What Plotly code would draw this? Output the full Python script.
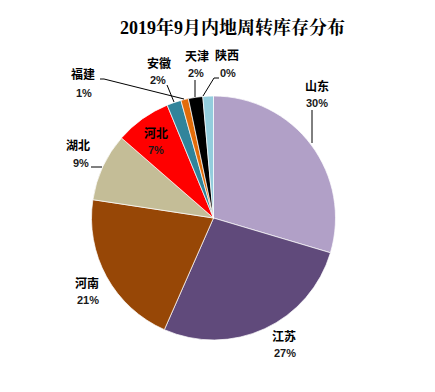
import plotly.graph_objects as go

W, H = 435, 392

# Data (clockwise from 12 o'clock)
provinces = ["山东", "江苏", "河南", "湖北", "河北", "安徽", "福建", "天津", "陕西"]
shares = [29.6, 27.0, 20.8, 9.0, 7.4, 1.9, 1.0, 1.9, 1.4]
pct_labels = ["30%", "27%", "21%", "9%", "7%", "2%", "1%", "2%", "0%"]
colors = ["#B1A0C7", "#604A7B", "#974706", "#C4BD97", "#FF0000",
          "#31849B", "#E36C09", "#000000", "#93CDDD"]

# pie geometry in pixels
cx, cy, r = 213.5, 218.0, 122.0

fig = go.Figure(go.Pie(
    labels=provinces, values=shares, sort=False, direction="clockwise",
    rotation=0, textinfo="none", hoverinfo="label+percent",
    marker=dict(colors=colors, line=dict(color="white", width=0.7)),
    domain=dict(x=[(cx - r) / W, (cx + r) / W], y=[(H - cy - r) / H, (H - cy + r) / H]),
    showlegend=False,
))

# label positions (pixel centers): name, pct
name_pos = {"山东": (317, 85), "江苏": (284, 335), "河南": (87, 282), "湖北": (78, 144),
            "河北": (156, 132), "安徽": (159, 62), "福建": (83, 74), "天津": (197, 56),
            "陕西": (227, 55)}
pct_pos = {"山东": (317, 103), "江苏": (285, 353), "河南": (88, 300), "湖北": (81, 163),
           "河北": (156, 150), "安徽": (158, 80), "福建": (84, 93), "天津": (196, 73),
           "陕西": (228, 73)}

def px(x):
    return x / W

def py(y):
    return 1 - y / H

ann = []
for name, pct in zip(provinces, pct_labels):
    x, y = name_pos[name]
    ann.append(dict(x=px(x), y=py(y), xref="paper", yref="paper", text="<b>" + name + "</b>",
                    showarrow=False, xanchor="center", yanchor="middle",
                    font=dict(family="Noto Sans CJK SC", size=12, color="#000000")))
    x, y = pct_pos[name]
    ann.append(dict(x=px(x), y=py(y), xref="paper", yref="paper", text="<b>" + pct + "</b>",
                    showarrow=False, xanchor="center", yanchor="middle",
                    font=dict(family="Liberation Sans, Arial", size=11, color="#1a1a1a")))

ann.append(dict(x=px(232), y=py(28), xref="paper", yref="paper",
                text="<b>2019年9月内地周转库存分布</b>", showarrow=False,
                xanchor="center", yanchor="middle",
                font=dict(family="Liberation Serif, Noto Serif CJK SC, Noto Sans CJK SC",
                          size=18, color="#000000")))

# leader lines (pixel paths)
leaders = [
    [(312, 110), (312, 143)],                 # 山东
    [(91, 167), (102, 167)],                  # 湖北
    [(100, 79), (104, 79), (184, 99)],        # 福建
    [(167, 85), (174, 102)],                  # 安徽
    [(195, 80), (195, 97)],                   # 天津
    [(219, 78), (214, 78), (203, 96)],        # 陕西
]
shapes = []
for pts in leaders:
    for (x0, y0), (x1, y1) in zip(pts[:-1], pts[1:]):
        shapes.append(dict(type="line", xref="paper", yref="paper",
                           x0=px(x0), y0=py(y0), x1=px(x1), y1=py(y1),
                           line=dict(color="#000000", width=1)))

fig.update_layout(width=W, height=H, margin=dict(l=0, r=0, t=0, b=0),
                  paper_bgcolor="white", plot_bgcolor="white",
                  annotations=ann, shapes=shapes)

fig.write_html("out.html", config={"displayModeBar": False},
               post_script="document.body.style.margin='0';")
